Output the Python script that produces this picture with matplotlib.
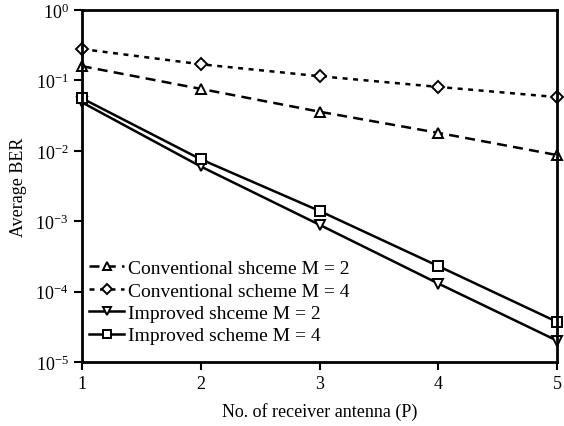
import matplotlib
matplotlib.use("Agg")
import matplotlib.pyplot as plt
import numpy as np

plt.rcParams['font.family'] = ['Liberation Serif', 'DejaVu Serif']
plt.rcParams['mathtext.fontset'] = 'stix'

# Datos
antennas = [1, 2, 3, 4, 5]
conv_m2 = [0.16, 0.076, 0.036, 0.018, 0.0087]
conv_m4 = [0.28, 0.17, 0.115, 0.081, 0.058]
impr_m2 = [0.049, 0.006, 8.9e-4, 1.3e-4, 2.0e-5]
impr_m4 = [0.056, 0.0076, 1.4e-3, 2.3e-4, 3.7e-5]

labels = ["Conventional shceme M = 2", "Conventional scheme M = 4",
          "Improved shceme M = 2", "Improved scheme M = 4"]

fig = plt.figure(figsize=(5.64, 4.27), dpi=100)
ax = fig.add_axes([0.145, 0.150, 0.843, 0.824])

mk = dict(markerfacecolor='white', markeredgecolor='black', markeredgewidth=1.4,
          markersize=7, color='black', linewidth=1.8, clip_on=False)
ax.plot(antennas, conv_m2, linestyle=(0, (4, 2.5)), marker='^', label=labels[0], **mk)
ax.plot(antennas, conv_m4, linestyle=(0, (2, 2.2)), marker='D', label=labels[1],
        **{**mk, 'markersize': 6})
ax.plot(antennas, impr_m2, linestyle='-', marker='v', label=labels[2], **mk)
ax.plot(antennas, impr_m4, linestyle='-', marker='s', label=labels[3], **mk)

ax.set_yscale('log')
ax.set_ylim(1e-5, 1)
ax.set_xlim(1, 5)
ax.set_xticks([1, 2, 3, 4, 5])
ax.set_yticks([1e-5, 1e-4, 1e-3, 1e-2, 1e-1, 1])
ax.minorticks_off()
ax.tick_params(direction='out', length=6, width=1.5, labelsize=13)
for s in ax.spines.values():
    s.set_linewidth(2)

ax.set_xlabel("No. of receiver antenna (P)", fontsize=13, labelpad=7)
ax.set_ylabel("Average BER", fontsize=13, labelpad=6)

leg = ax.legend(loc='lower left', frameon=False, fontsize=14, handlelength=1.8,
                handletextpad=0.2, labelspacing=0.25, borderaxespad=0.1,
                markerscale=0.8, bbox_to_anchor=(-0.005, 0.022))

fig.savefig("out.png", dpi=100)
